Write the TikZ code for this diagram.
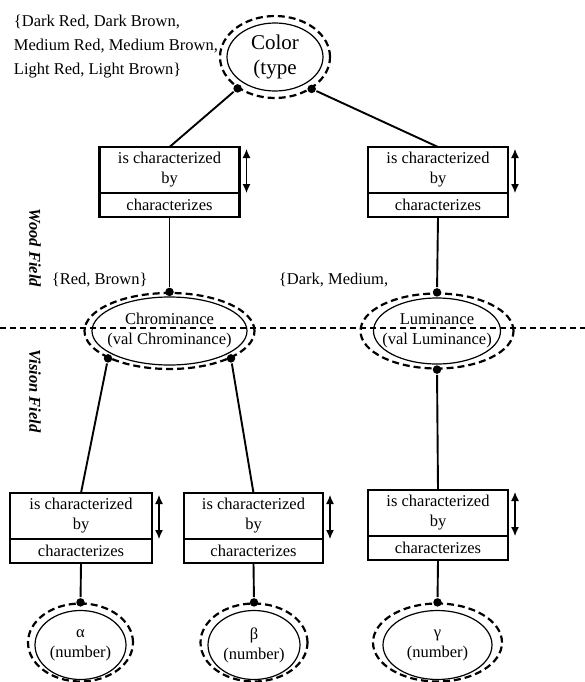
\documentclass[tikz,border=0pt]{standalone}
\usepackage{fontspec}
\setmainfont{Liberation Serif}
\usetikzlibrary{arrows.meta,shapes,positioning,calc}

\begin{document}
\begin{tikzpicture}[
x=1pt, y=1pt, >={Latex[length=9pt,width=8pt]}, line width=1.9pt,
font=\fontsize{16.5}{20}\selectfont,
val-node/.style = {ellipse, draw, line width=1.2pt, inner xsep=-25pt, inner ysep=-6pt, align=center},
ring-node/.style = {ellipse, draw, line width=2.2pt, dash pattern=on 7pt off 4pt, inner sep=0pt},
rel-up/.style = {rectangle, draw, line width=2.1pt, minimum width=140pt, minimum height=46pt, inner sep=0pt, outer sep=0pt, align=center},
rel-down/.style = {rectangle, draw, line width=2.1pt, minimum width=140pt, minimum height=24pt, inner sep=0pt, outer sep=0pt},
dot-node/.style = {circle, fill=black, inner sep=0pt, minimum size=8.5pt},
dir-arrow/.style = {<->, line width=1.2pt},
split-line/.style = {line width=1.2pt, dash pattern=on 6pt off 4pt},
field-label/.style = {rotate=-90, font=\fontsize{16.5}{20}\selectfont\bfseries\itshape},
note/.style = {inner sep=0pt, align=left}
]

\useasboundingbox (0,0) rectangle (585,-682);

% field border
\coordinate (split-l) at (0,-328);
\coordinate (split-r) at (585,-328);
\draw [split-line] (split-l) -- (split-r);

% value nodes
\node [val-node, minimum width=96pt, minimum height=68pt, font=\fontsize{21}{25}\selectfont] (color) at (275,-57) {Color\\(type};
\node [ring-node, minimum width=110pt, minimum height=82pt] (color-ring) at (color) {};
\node [val-node, minimum width=155pt, minimum height=68pt] (chrom) at (169.5,-331) {Chrominance\\(val Chrominance)};
\node [ring-node, minimum width=170pt, minimum height=76pt] (chrom-ring) at (chrom) {};
\node [val-node, minimum width=127pt, minimum height=66pt] (lum) at (437,-331) {Luminance\\(val Luminance)};
\node [ring-node, minimum width=153pt, minimum height=75pt] (lum-ring) at (lum) {};
\node [val-node, minimum width=91pt, minimum height=69pt] (al) at (80.5,-645) {α\\(number)};
\node [ring-node, minimum width=105pt, minimum height=78pt] (al-ring) at (80.5,-642.5) {};
\node [val-node, minimum width=92pt, minimum height=69pt] (be) at (254,-645) {β\\(number)};
\node [ring-node, minimum width=107pt, minimum height=78pt] (be-ring) at (254,-642.5) {};
\node [val-node, minimum width=109pt, minimum height=69pt] (ga) at (437.5,-645) {γ\\(number)};
\node [ring-node, minimum width=129pt, minimum height=78pt] (ga-ring) at (437.5,-642.5) {};

% relation boxes
\node [rel-up] (lt-up) at (169.5,-170) {is characterized\\by};
\node [rel-down, below=0pt of lt-up] (lt-down) {characterizes};
\node [rel-up] (rt-up) at (438,-170) {is characterized\\by};
\node [rel-down, below=0pt of rt-up] (rt-down) {characterizes};
\node [rel-up, minimum width=142pt] (al-up) at (81,-516) {is characterized\\by};
\node [rel-down, minimum width=142pt, below=0pt of al-up] (al-down) {characterizes};
\node [rel-up, minimum width=139pt] (be-up) at (253.5,-516) {is characterized\\by};
\node [rel-down, minimum width=139pt, below=0pt of be-up] (be-down) {characterizes};
\node [rel-up] (ga-up) at (438,-513) {is characterized\\by};
\node [rel-down, below=0pt of ga-up] (ga-down) {characterizes};

% dots
\node [dot-node] (color-dl) at (color-ring.220) {};
\node [dot-node] (color-dr) at (color-ring.-41) {};
\node [dot-node] (chrom-dt) at (chrom-ring.north) {};
\node [dot-node] (chrom-dl) at (chrom-ring.204) {};
\node [dot-node] (chrom-dr) at (chrom-ring.-24) {};
\node [dot-node] (lum-dt) at (lum-ring.north) {};
\node [dot-node] (lum-db) at (lum-ring.south) {};
\node [dot-node] (al-dt) at (al-ring.north) {};
\node [dot-node] (be-dt) at (be-ring.north) {};
\node [dot-node] (ga-dt) at (ga-ring.north) {};

% labels
\node [note, anchor=north west, font=\fontsize{16.5}{24}\selectfont] (color-set) at (13,-14) {\{Dark Red, Dark Brown,\\Medium Red, Medium Brown,\\Light Red, Light Brown\}};
\node [note, anchor=west] (chrom-set) at (51,-280) {\{Red, Brown\}};
\node [note, anchor=west] (lum-set) at (278,-280) {\{Dark, Medium,};
\node [field-label] (wood) at (35,-248) {Wood Field};
\node [field-label] (vision) at (35,-391) {Vision Field};

% connectors
\draw (color-dl) -- (lt-up.north);
\draw (color-dr) -- (rt-up.north);
\draw (lt-down.south) -- (chrom-dt);
\draw (rt-down.south) -- (lum-dt);
\draw (chrom-dl) -- (al-up.north);
\draw (chrom-dr) -- (be-up.north);
\draw (lum-db) -- (ga-up.north);
\draw (al-down.south) -- (al-dt);
\draw (be-down.south) -- (be-dt);
\draw (ga-down.south) -- (ga-dt);

% arrows
\draw [dir-arrow] ([xshift=7pt, yshift=-2pt]lt-up.north east) -- ([xshift=7pt]lt-up.south east);
\draw [dir-arrow] ([xshift=7pt, yshift=-2pt]rt-up.north east) -- ([xshift=7pt]rt-up.south east);
\draw [dir-arrow] ([xshift=7pt, yshift=-2pt]al-up.north east) -- ([xshift=7pt]al-up.south east);
\draw [dir-arrow] ([xshift=7pt, yshift=-2pt]be-up.north east) -- ([xshift=7pt]be-up.south east);
\draw [dir-arrow] ([xshift=7pt, yshift=-2pt]ga-up.north east) -- ([xshift=7pt]ga-up.south east);

\end{tikzpicture}
\end{document}
